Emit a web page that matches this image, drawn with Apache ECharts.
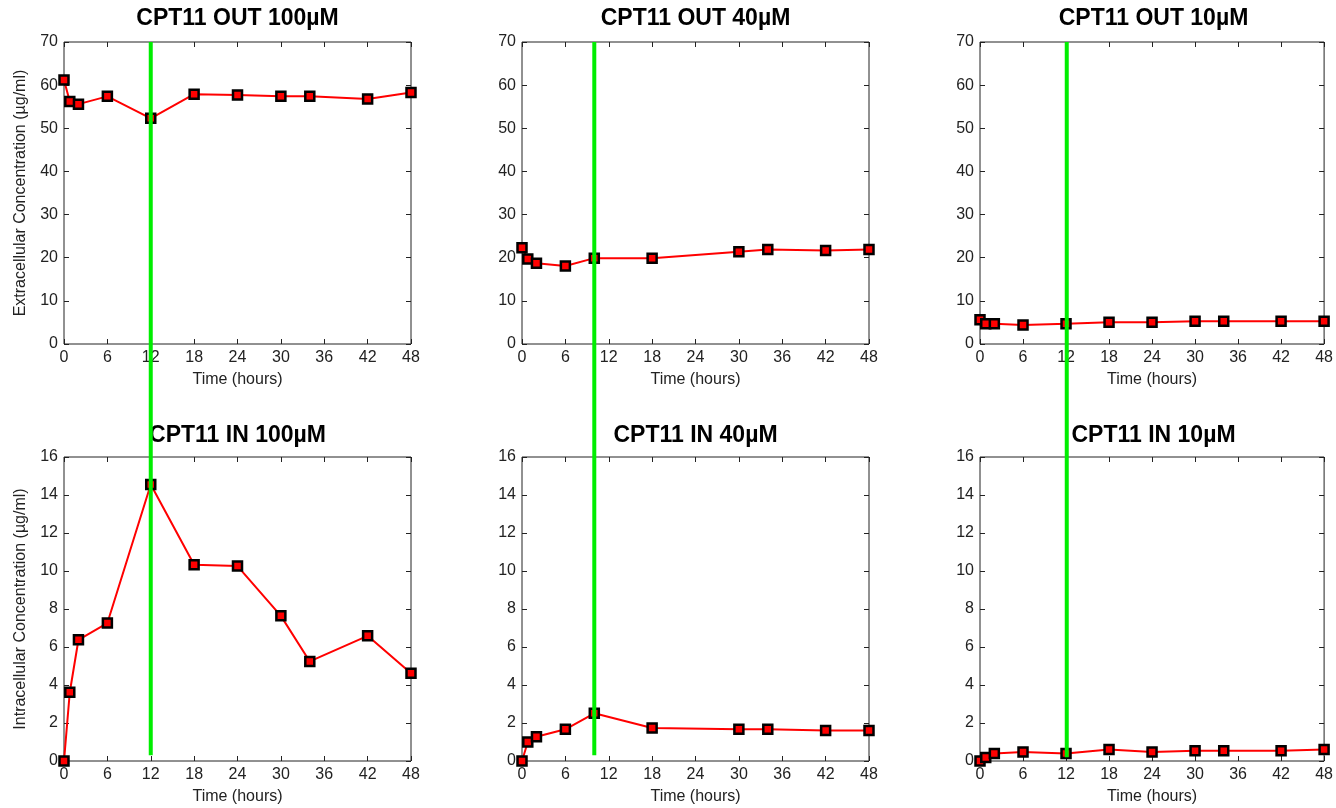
<!DOCTYPE html>
<html>
<head>
<meta charset="utf-8">
<script src="https://cdn.jsdelivr.net/npm/echarts@6/dist/echarts.min.js"></script>
<style>
html, body { margin: 0; padding: 0; background: #fff; }
#chart { width: 1336px; height: 808px; }
</style>
</head>
<body>
<div id="chart"></div>
<script>
// sample times (hours); the 40uM runs were sampled at 10h and have no 24h point
var timesA = [0, 0.8, 2, 6, 12, 18, 24, 30, 34, 42, 48];
var timesB = [0, 0.8, 2, 6, 10, 18, 30, 34, 42, 48];

var out100 = [61.2, 56.2, 55.6, 57.4, 52.3, 57.9, 57.7, 57.4, 57.4, 56.8, 58.3];
var out40 = [22.3, 19.7, 18.7, 18.1, 19.9, 19.9, 21.4, 21.9, 21.7, 21.9];
var out10 = [5.6, 4.7, 4.7, 4.4, 4.7, 5.05, 5.05, 5.3, 5.3, 5.3, 5.3];
var in100 = [0, 3.62, 6.38, 7.26, 14.55, 10.33, 10.26, 7.64, 5.24, 6.59, 4.62];
var in40 = [0, 1.0, 1.28, 1.67, 2.51, 1.74, 1.67, 1.67, 1.6, 1.6];
var in10 = [0, 0.19, 0.4, 0.47, 0.4, 0.6, 0.47, 0.54, 0.54, 0.54, 0.6];

var titlesOut = ['CPT11 OUT 100\u00b5M', 'CPT11 OUT 40\u00b5M', 'CPT11 OUT 10\u00b5M'];
var titlesIn = ['CPT11 IN 100\u00b5M', 'CPT11 IN 40\u00b5M', 'CPT11 IN 10\u00b5M'];
var yNames = ['Extracellular Concentration (\u00b5g/ml)', 'Intracellular Concentration (\u00b5g/ml)'];
var xName = 'Time (hours)';

// x ticks 0..48 step 6, y ticks 0..70 step 10 (out) and 0..16 step 2 (in)
var xScale = [0, 48, 6];
var yScales = [[0, 70, 10], [0, 16, 2]];

// green marker line per column: time, and its ends in intracellular-axis units
// (it runs from near 0 of the lower panel up to the top of the upper panel)
var greenTimes = [12, 10, 12];
var greenLow = [0.3, 0.3, 0.2];
var greenHigh = 37.84;

var font = '"Liberation Sans", Arial, sans-serif';
var textColor = '#222';
var colLeft = [64, 522, 980];
var colWidth = 347;
var rowTop = [42, 457];
var rowHeight = [302, 304];

var panels = {
    'build': function () {
        var option = {
            animation: false,
            backgroundColor: '#fff',
            title: [], grid: [], xAxis: [], yAxis: [], series: []
        };
        var rows = [
            { titles: titlesOut, data: [out100, out40, out10] },
            { titles: titlesIn, data: [in100, in40, in10] }
        ];
        var times = [timesA, timesB, timesA];
        rows.forEach(function (row, r) {
            for (var c = 0; c < 3; c++) {
                var idx = option.grid.length;
                option.grid.push({
                    left: colLeft[c], top: rowTop[r], width: colWidth, height: rowHeight[r],
                    show: true, borderColor: '#222', borderWidth: 1, backgroundColor: '#fff'
                });
                option.title.push({
                    text: row.titles[c],
                    left: colLeft[c] + colWidth / 2,
                    top: rowTop[r] - 35 + r * 2,
                    textAlign: 'center',
                    padding: 0,
                    z: 1,
                    textStyle: { fontSize: 23, fontWeight: 'bold', color: '#000', fontFamily: font }
                });
                option.xAxis.push(panels.axis(idx, 'bottom', xScale, true, xName, 28));
                option.xAxis.push(panels.axis(idx, 'top', xScale, false));
                option.yAxis.push(panels.axis(idx, 'left', yScales[r], true, c === 0 ? yNames[r] : '', 35));
                option.yAxis.push(panels.axis(idx, 'right', yScales[r], false));

                var pts = times[c].map(function (t, i) { return [t, row.data[c][i]]; });
                option.series.push({
                    type: 'line',
                    xAxisIndex: option.xAxis.length - 2,
                    yAxisIndex: option.yAxis.length - 2,
                    data: pts,
                    symbol: 'rect',
                    symbolSize: 9,
                    showAllSymbol: true,
                    lineStyle: { color: '#ff0000', width: 2 },
                    itemStyle: { color: '#ff0000', borderColor: '#000', borderWidth: 2.5 },
                    z: 3
                });
            }
        });

        // overlay grids spanning both rows of each column, for the green lines
        for (var c = 0; c < 3; c++) {
            var g = option.grid.length;
            option.grid.push({
                left: colLeft[c], width: colWidth, top: rowTop[0],
                height: rowTop[1] + rowHeight[1] - rowTop[0], show: false
            });
            option.xAxis.push({ type: 'value', gridIndex: g, min: xScale[0], max: xScale[1], show: false });
            option.yAxis.push({ type: 'value', gridIndex: g, min: 0, max: greenHigh, show: false });
            option.series.push({
                type: 'line',
                xAxisIndex: option.xAxis.length - 1,
                yAxisIndex: option.yAxis.length - 1,
                data: [[greenTimes[c], greenLow[c]], [greenTimes[c], greenHigh]],
                symbol: 'none',
                clip: false,
                lineStyle: { color: '#00ee00', width: 4 },
                z: 6
            });
        }
        return option;
    },
    'axis': function (gridIndex, position, scale, labels, name, gap) {
        return {
            type: 'value',
            gridIndex: gridIndex,
            position: position,
            min: scale[0],
            max: scale[1],
            interval: scale[2],
            axisLine: { show: false, onZero: false },
            axisTick: { show: true, inside: true, length: 5, lineStyle: { color: '#222', width: 1 } },
            axisLabel: { show: labels, margin: 6, color: textColor, fontSize: 16, fontFamily: font },
            splitLine: { show: false },
            name: name || '',
            nameLocation: 'middle',
            nameGap: gap || 0,
            nameTextStyle: { color: textColor, fontSize: 16, fontFamily: font }
        };
    }
};

var chart = echarts.init(document.getElementById('chart'));
chart.setOption(panels.build());
</script>
</body>
</html>
